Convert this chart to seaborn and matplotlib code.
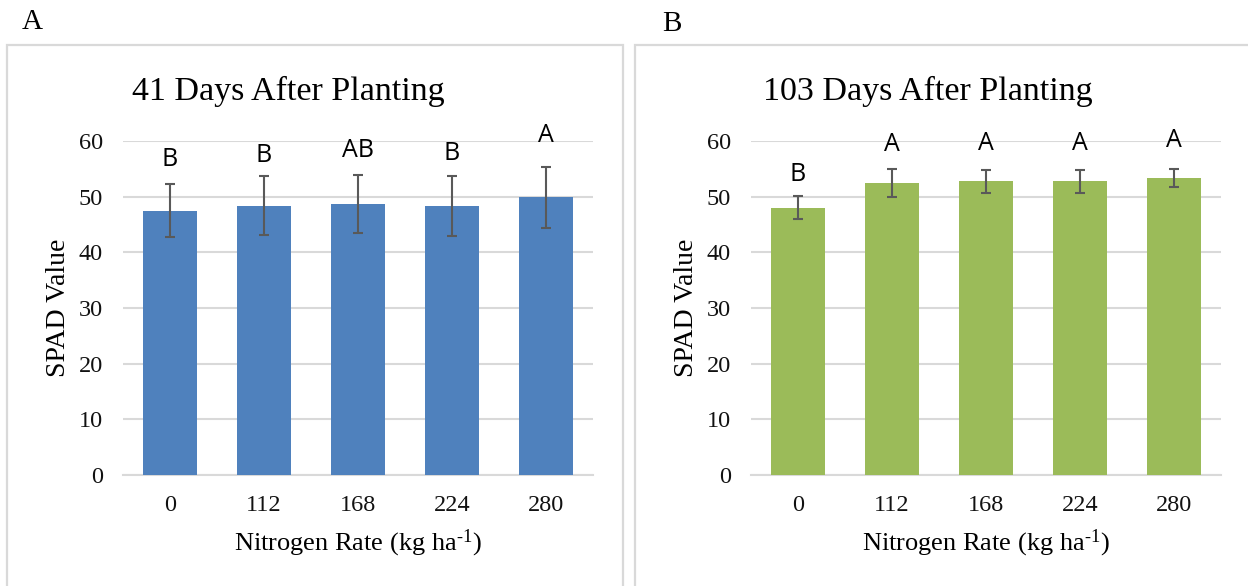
import numpy as np
import pandas as pd
import matplotlib
matplotlib.use("Agg")
import matplotlib.pyplot as plt
import seaborn as sns
from matplotlib.patches import Rectangle

# ---- data ----
rates = ["0", "112", "168", "224", "280"]
spad_41 = [47.5, 48.4, 48.7, 48.3, 49.9]
err_41 = [4.73, 5.33, 5.2, 5.4, 5.45]
letters_41 = ["B", "B", "AB", "B", "A"]
letter_base_41 = [55.55, 56.15, 57.05, 56.55, 59.75]

spad_103 = [48.0, 52.4, 52.76, 52.76, 53.3]
err_103 = [2.1, 2.5, 2.1, 2.1, 1.6]
letters_103 = ["B", "A", "A", "A", "A"]
letter_base_103 = [52.85, 58.25, 58.4, 58.4, 58.85]

titles = ["41 Days After Planting", "103 Days After Planting"]
panel_tags = ["A", "B"]
colors = ["#4F81BD", "#9BBB59"]

sns.set_theme(style="white")
plt.rcParams["font.family"] = ["Liberation Serif", "DejaVu Serif"]
plt.rcParams["mathtext.fontset"] = "custom"
plt.rcParams["mathtext.rm"] = "Liberation Serif"
plt.rcParams["mathtext.it"] = "Liberation Serif:italic"

W, H = 1248, 586
fig = plt.figure(figsize=(W / 100, H / 100), dpi=100)
fig.patch.set_facecolor("white")

grid_c = "#D9D9D9"
err_c = "#595959"
txt_c = "#111111"

# panel frames
fig.add_artist(Rectangle((7 / W, -0.01), (623 - 7) / W, (586 - 45) / H + 0.01,
                         transform=fig.transFigure, fill=False, ec=grid_c, lw=1.6))
fig.add_artist(Rectangle((635 / W, -0.01), (1270 - 635) / W, (586 - 45) / H + 0.01,
                         transform=fig.transFigure, fill=False, ec=grid_c, lw=1.6))

shift = 628
ax_left = 123
ax_w = 470
ax_top = 141
ax_bot = 475
title_x = [288, 928]
tag_pos = [(32, 22), (672, 24)]
datasets = [(spad_41, err_41, letters_41, letter_base_41),
            (spad_103, err_103, letters_103, letter_base_103)]
xlabel_text = "Nitrogen Rate (kg ha$^{\\mathrm{\u2010}1}$)"

for i, (vals, errs, lets, lb) in enumerate(datasets):
    x0 = ax_left + i * shift
    ax = fig.add_axes([x0 / W, (H - ax_bot) / H, ax_w / W, (ax_bot - ax_top) / H])
    df = pd.DataFrame({"rate": rates, "spad": vals})
    sns.barplot(data=df, x="rate", y="spad", color=colors[i], width=0.574,
                saturation=1, ax=ax, errorbar=None, zorder=3)
    for p in ax.patches:
        p.set_edgecolor("none")
    xpos = np.arange(len(rates))
    ax.errorbar(xpos, vals, yerr=errs, fmt="none", ecolor=err_c,
                elinewidth=1.5, capsize=3.8, capthick=1.5, zorder=4)
    for xi, lab, yy in zip(xpos, lets, lb):
        ax.text(xi, yy, lab, ha="center", va="baseline", fontsize=18,
                family=["Open Sans", "DejaVu Sans"], color="black", clip_on=False)
    ax.set_ylim(0, 60)
    ax.set_xlim(-0.5, 4.5)
    ax.set_yticks([0, 10, 20, 30, 40, 50, 60])
    ax.yaxis.grid(True, color=grid_c, lw=1.5, zorder=0)
    ax.set_axisbelow(True)
    for s in ["top", "right", "left"]:
        ax.spines[s].set_visible(False)
    ax.spines["bottom"].set_color(grid_c)
    ax.spines["bottom"].set_linewidth(1.5)
    ax.tick_params(axis="both", length=0, labelsize=17.5, colors=txt_c)
    ax.tick_params(axis="x", pad=14.5)
    ax.tick_params(axis="y", pad=14.5)
    ax.set_xlabel("")
    ax.set_ylabel("")
    fig.text((x0 + ax_w / 2) / W, (H - 550) / H, xlabel_text,
             ha="center", va="baseline", fontsize=19, color="black")
    fig.text((65 + i * shift) / W, (H - 308) / H, "SPAD Value", rotation=90,
             rotation_mode="anchor", ha="center", va="baseline", fontsize=20, color="black")
    fig.text(title_x[i] / W, (H - 100) / H, titles[i], ha="center", va="baseline",
             fontsize=24.5, color="black")
    fig.text(tag_pos[i][0] / W, (H - tag_pos[i][1]) / H, panel_tags[i], ha="center",
             va="center", fontsize=21, color="black")

fig.savefig("out.png", dpi=100, facecolor="white")
